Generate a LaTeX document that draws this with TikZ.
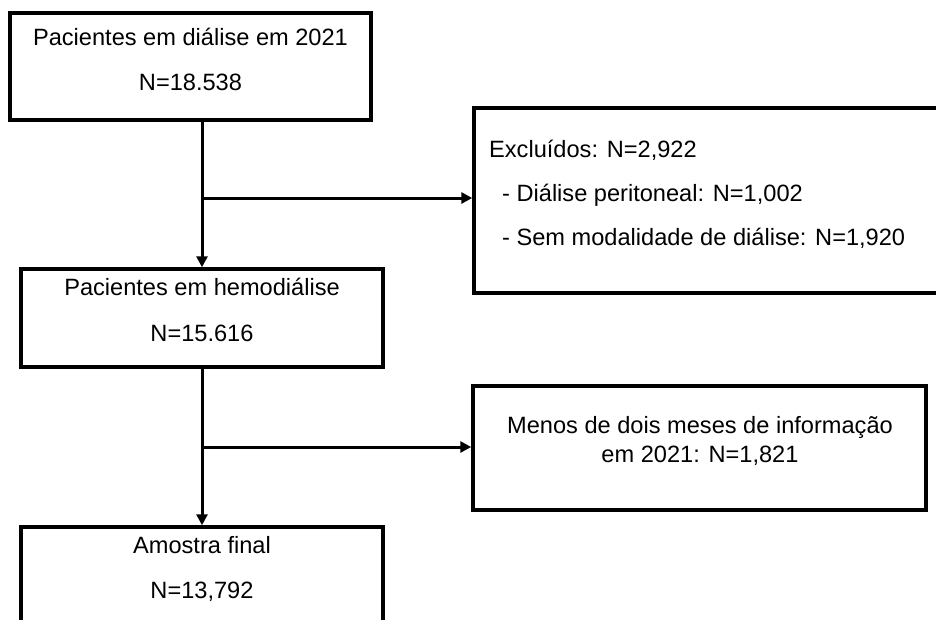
\documentclass[tikz,border=0pt]{standalone}
\usepackage{fontspec}
\setmainfont{Liberation Sans}
\usetikzlibrary{arrows.meta}
\begin{document}
\begin{tikzpicture}[x=1pt,y=-1pt,
  box/.style={draw=black, line width=3.5pt, rectangle, inner sep=0pt, fill=none},
  lbl/.style={font=\fontsize{23.6}{28}\selectfont, inner sep=0pt, anchor=base},
  lbll/.style={font=\fontsize{23.6}{28}\selectfont, inner sep=0pt, anchor=base west},
  conn/.style={draw=black, line width=3pt},
  arr/.style={conn, -{Triangle[length=11pt,width=11pt]}}]
\useasboundingbox (0,0) rectangle (936,619);
\clip (0,0) rectangle (936,619);
% boxes
\node[box, minimum width=361pt, minimum height=107pt] (b1) at (190.5,66.5) {};
\node[box, minimum width=362pt, minimum height=98pt] (b3) at (202,318) {};
\node[box, minimum width=362pt, minimum height=120pt] (b4) at (202,587) {};
\node[box, minimum width=472pt, minimum height=185pt] (b2) at (710,200.5) {};
\node[box, minimum width=453pt, minimum height=124pt] (b5) at (699.5,448) {};
% texts
\node[lbl] (t1a) at (190.5,45) {Pacientes em diálise em 2021};
\node[lbl] (t1b) at (190.5,90) {N=18.538};
\node[lbl] (t3a) at (202,295) {Pacientes em hemodiálise};
\node[lbl] (t3b) at (202,341) {N=15.616};
\node[lbl] (t4a) at (202,553) {Amostra final};
\node[lbl] (t4b) at (202,598) {N=13,792};
\node[lbll] (t2a) at (489,157) {Excluídos: N=2,922};
\node[lbll] (t2b) at (502,201) {- Diálise peritoneal: N=1,002};
\node[lbll] (t2c) at (502,245) {- Sem modalidade de diálise: N=1,920};
\node[lbl] (t5a) at (700,433) {Menos de dois meses de informação};
\node[lbl] (t5b) at (700,462) {em 2021: N=1,821};
% connectors
\coordinate (j1) at (202,198);
\coordinate (j2) at (202,447);
\draw[arr] (b1.south -| b3.north) -- (b3.north);
\draw[arr] (j1) -- (j1 -| b2.west);
\draw[arr] (b3.south) -- (b4.north);
\draw[arr] (j2) -- (j2 -| b5.west);
\end{tikzpicture}
\end{document}
